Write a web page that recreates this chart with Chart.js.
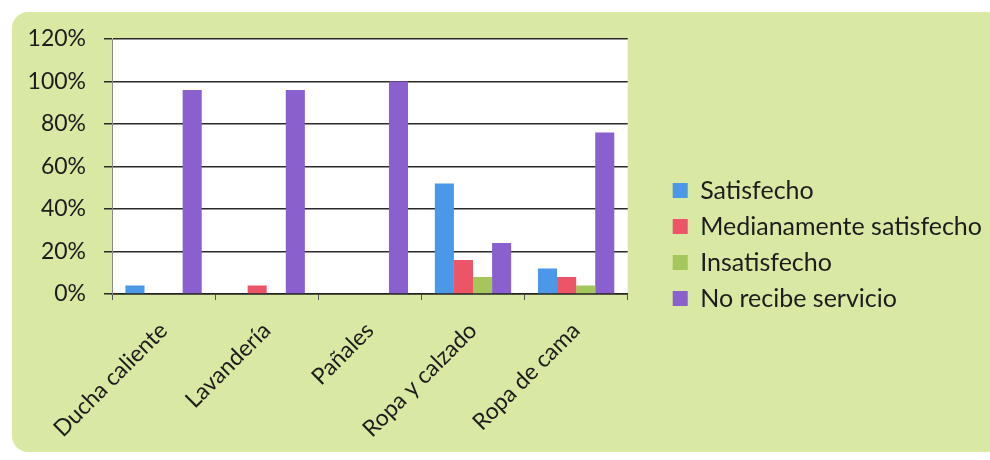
<!DOCTYPE html>
<html>
<head>
<meta charset="utf-8">
<script src="https://cdn.jsdelivr.net/npm/chart.js@4/dist/chart.umd.min.js"></script>
<style>
  html, body { margin: 0; padding: 0; background: #ffffff; }
  #wrap { position: relative; width: 990px; height: 460px; overflow: hidden; }
  #panel {
    position: absolute; left: 12px; top: 12px; width: 990px; height: 440px;
    background: #d9e8a3; border-radius: 16px;
  }
  #chart { position: absolute; left: 0; top: 0; }
</style>
</head>
<body>
<div id="wrap">
  <div id="panel"></div>
  <canvas id="chart" width="990" height="460"></canvas>
</div>
<script>
// servicios evaluados
const categories = ['Ducha caliente', 'Lavandería', 'Pañales', 'Ropa y calzado', 'Ropa de cama'];
const seriesNames = ['Satisfecho', 'Medianamente satisfecho', 'Insatisfecho', 'No recibe servicio'];
// porcentajes por servicio
const satisfecho = [4, 0, 0, 52, 12];
const medianamente = [0, 4, 0, 16, 8];
const insatisfecho = [0, 0, 0, 8, 4];
const noRecibe = [96, 96, 100, 24, 76];
const yTicks = [0, 20, 40, 60, 80, 100, 120];

const colors = ['#4b97e8', '#ec5467', '#a5c65b', '#8a60cf'];
const values = [satisfecho, medianamente, insatisfecho, noRecibe];

// fondo blanco del área de trazado
const plotBackground = {
    id: 'plotBackground',
    beforeDraw(chart) {
        const { ctx, chartArea } = chart;
        ctx.save();
        ctx.fillStyle = '#ffffff';
        ctx.fillRect(chartArea.left, chartArea.top, chartArea.right - chartArea.left, chartArea.bottom - chartArea.top);
        ctx.restore();
    }
};

// deja un hueco entre el gráfico y la leyenda
const legendGap = {
    id: 'legendGap',
    afterLayout(chart) {
        const shift = chart.chartArea.right + 34 - chart.legend.left;
        chart.legend.left += shift;
        chart.legend.right += shift;
    }
};

const ctx = document.getElementById('chart').getContext('2d');
new Chart(ctx, {
    type: 'bar',
    data: {
        labels: categories,
        datasets: seriesNames.map((name, i) => ({
            label: name,
            data: values[i],
            backgroundColor: colors[i],
            categoryPercentage: 0.74,
            barPercentage: 1.0,
        })),
    },
    options: {
        responsive: false,
        animation: false,
        layout: { padding: { top: 39, left: 0, right: 32, bottom: 10 } },
        plugins: {
            legend: {
                position: 'right',
                align: 'center',
                maxWidth: 500,
                labels: {
                    font: { family: 'Lato', size: 25 },
                    color: '#1c1c1c',
                    boxWidth: 15,
                    boxHeight: 15,
                    padding: 11,
                },
            },
            tooltip: { enabled: false },
        },
        scales: {
            x: {
                grid: { display: true, drawOnChartArea: false, color: '#555555', tickLength: 6 },
                border: { color: '#222222', width: 1.5 },
                ticks: {
                    font: { family: 'Lato', size: 23 },
                    color: '#1c1c1c',
                    minRotation: 45,
                    maxRotation: 45,
                    padding: 17,
                },
                afterFit(scale) { scale.height = 156; },
            },
            y: {
                min: 0,
                max: 120,
                afterBuildTicks(scale) { scale.ticks = yTicks.map(v => ({ value: v })); },
                grid: { color: '#2a2a2a', lineWidth: 1.5, tickLength: 8 },
                border: { color: '#8a8a8a', width: 1 },
                ticks: {
                    font: { family: 'Lato', size: 23 },
                    color: '#1c1c1c',
                    padding: 18,
                    callback: (v) => v + '%',
                },
                afterFit(scale) { scale.width = 112; },
            },
        },
    },
    plugins: [plotBackground, legendGap],
});
</script>
</body>
</html>
